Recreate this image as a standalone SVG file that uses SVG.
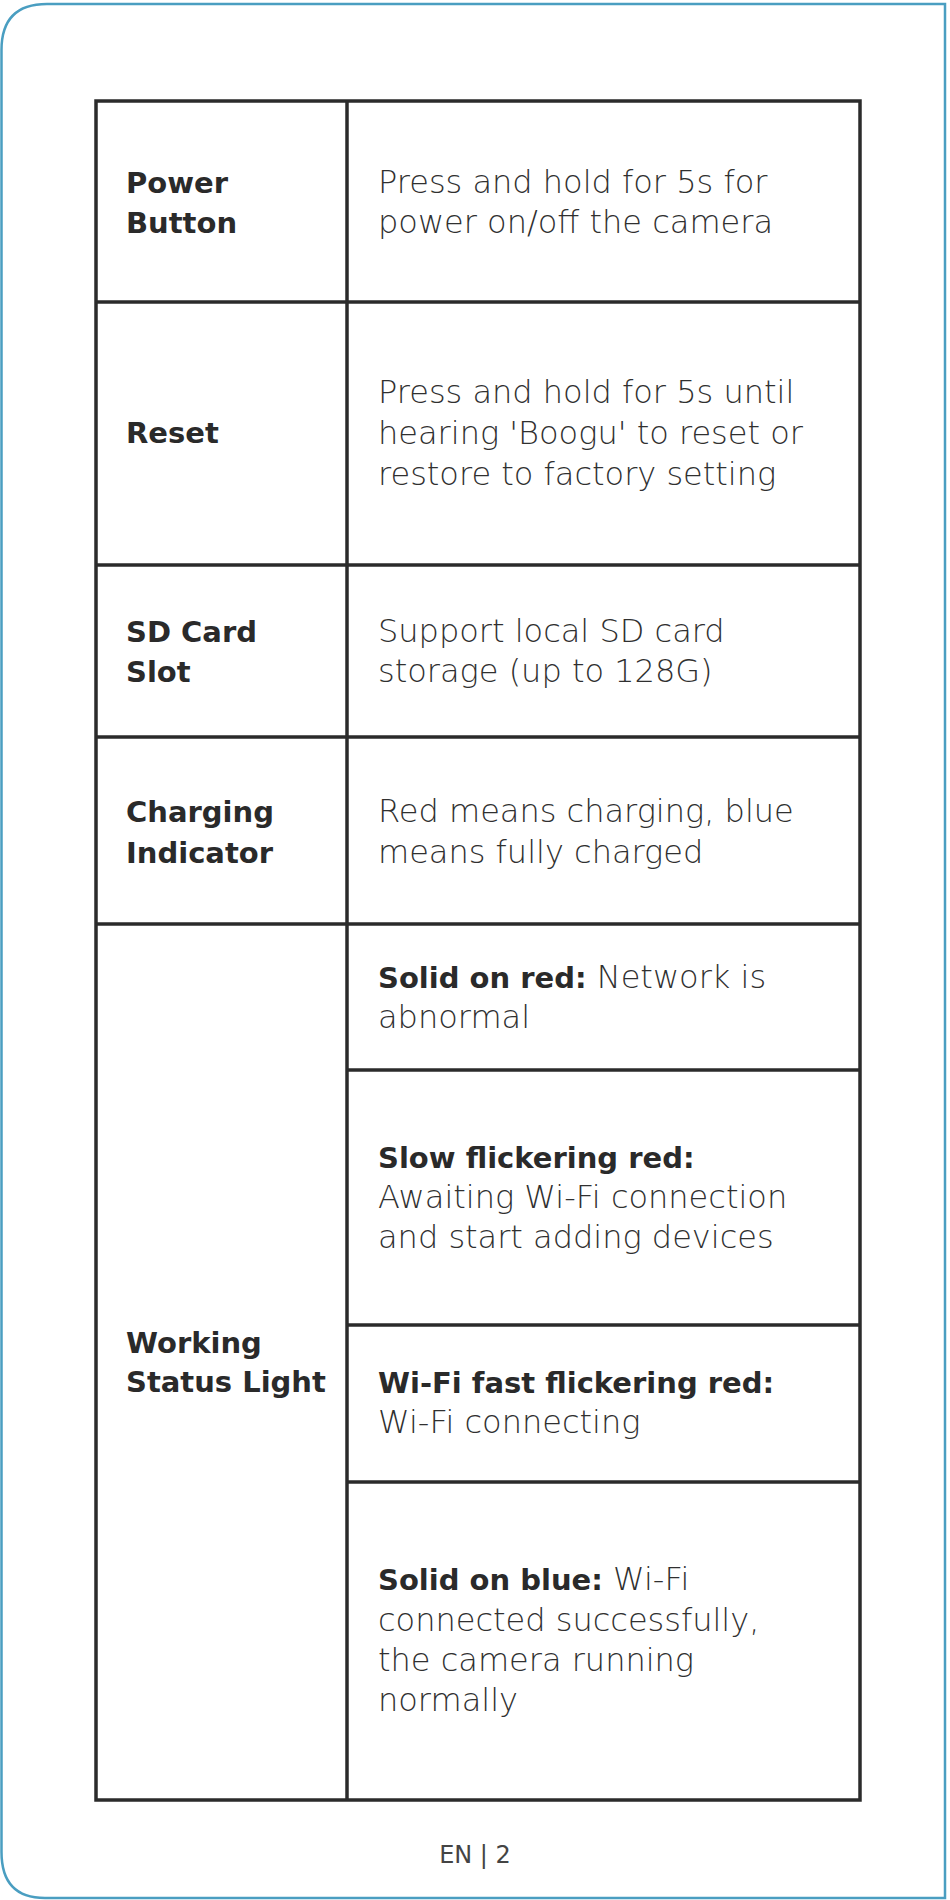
<svg xmlns="http://www.w3.org/2000/svg" width="950" height="1900" viewBox="0 0 950 1900">
<style>
.frame{fill:#ffffff;stroke:#4a9ec1;stroke-width:2.5}
.grid{fill:none;stroke:#2b2b2b;stroke-width:3.5}
.lab{font-family:"DejaVu Sans","Liberation Sans",sans-serif;font-size:29px;font-weight:bold;fill:#2a2a2a}
.desc{font-family:"DejaVu Sans","Liberation Sans",sans-serif;font-size:32px;font-weight:300;fill:#303030}
.b{font-size:29px;font-weight:bold;fill:#2a2a2a}
.foot{font-family:"DejaVu Sans","Liberation Sans",sans-serif;font-size:24px;fill:#444444}
</style>
<rect width="950" height="1900" fill="#ffffff"/>
<path class="frame" d="M1.5,50 Q1.5,4 47,4 L945,4 L945,1898 L45,1898 Q1.5,1898 1.5,1852 Z"/>
<g id="table-grid">
<rect class="grid" x="96" y="101" width="764" height="1699"/>
<line class="grid" x1="347" y1="101" x2="347" y2="1800"/>
<line class="grid" x1="96" y1="302" x2="860" y2="302"/>
<line class="grid" x1="96" y1="565" x2="860" y2="565"/>
<line class="grid" x1="96" y1="737" x2="860" y2="737"/>
<line class="grid" x1="96" y1="924" x2="860" y2="924"/>
<line class="grid" x1="347" y1="1070" x2="860" y2="1070"/>
<line class="grid" x1="347" y1="1325" x2="860" y2="1325"/>
<line class="grid" x1="347" y1="1482" x2="860" y2="1482"/>
</g>
<g id="row-power">
<text class="lab" x="126" y="193">Power</text>
<text class="lab" x="126" y="233">Button</text>
<text class="desc" x="378" y="193">Press and hold for 5s for</text>
<text class="desc" x="378" y="233">power on/off the camera</text>
</g>
<g id="row-reset">
<text class="lab" x="126" y="443">Reset</text>
<text class="desc" x="378" y="403">Press and hold for 5s until</text>
<text class="desc" x="378" y="444">hearing 'Boogu' to reset or</text>
<text class="desc" x="378" y="485">restore to factory setting</text>
</g>
<g id="row-sd">
<text class="lab" x="126" y="642">SD Card</text>
<text class="lab" x="126" y="682">Slot</text>
<text class="desc" x="378" y="642">Support local SD card</text>
<text class="desc" x="378" y="682">storage (up to 128G)</text>
</g>
<g id="row-charging">
<text class="lab" x="126" y="822">Charging</text>
<text class="lab" x="126" y="863">Indicator</text>
<text class="desc" x="378" y="822">Red means charging, blue</text>
<text class="desc" x="378" y="863">means fully charged</text>
</g>
<g id="row-status">
<text class="lab" x="126" y="1353">Working</text>
<text class="lab" x="126" y="1392">Status Light</text>
</g>
<g id="status-solid-red">
<text class="desc" x="378" y="988"><tspan class="b">Solid on red:</tspan> Network is</text>
<text class="desc" x="378" y="1028">abnormal</text>
</g>
<g id="status-slow-red">
<text class="desc" x="378" y="1168"><tspan class="b">Slow flickering red:</tspan></text>
<text class="desc" x="378" y="1208">Awaiting Wi-Fi connection</text>
<text class="desc" x="378" y="1248">and start adding devices</text>
</g>
<g id="status-fast-red">
<text class="desc" x="378" y="1393"><tspan class="b">Wi-Fi fast flickering red:</tspan></text>
<text class="desc" x="378" y="1433">Wi-Fi connecting</text>
</g>
<g id="status-solid-blue">
<text class="desc" x="378" y="1590"><tspan class="b">Solid on blue:</tspan> Wi-Fi</text>
<text class="desc" x="378" y="1631">connected successfully,</text>
<text class="desc" x="378" y="1671">the camera running</text>
<text class="desc" x="378" y="1711">normally</text>
</g>
<text class="foot" x="475" y="1863" text-anchor="middle">EN | 2</text>
</svg>
